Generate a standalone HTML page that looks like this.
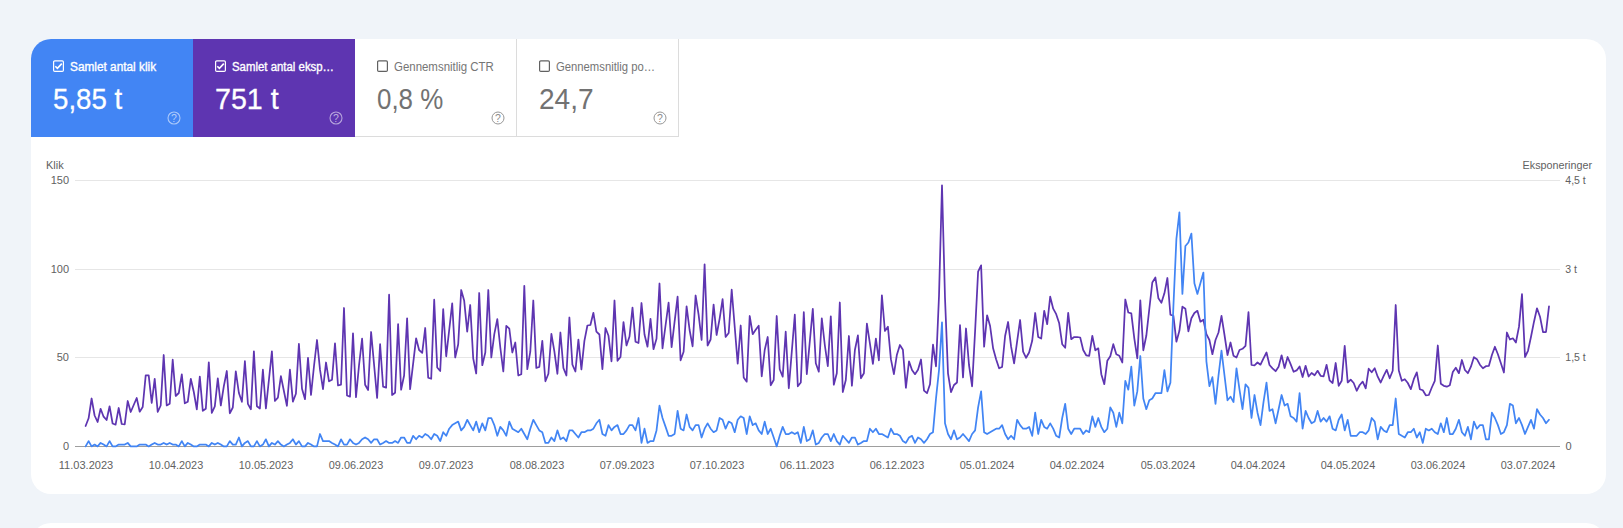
<!DOCTYPE html>
<html lang="da">
<head>
<meta charset="utf-8">
<title>Effektivitet</title>
<style>
html,body{margin:0;padding:0;}
body{width:1623px;height:528px;overflow:hidden;background:#f0f4f9;font-family:"Liberation Sans",Arial,sans-serif;position:relative;}
.card{position:absolute;left:31px;top:39px;width:1575px;height:455px;background:#fff;border-radius:20px;overflow:hidden;}
.card2{position:absolute;left:31px;top:522.5px;width:1575px;height:60px;background:#fff;border-radius:20px;}
.tiles{position:absolute;left:0;top:0;height:98px;display:flex;}
.tile{width:162px;height:98px;box-sizing:border-box;position:relative;color:#fff;}
.tile.blue{background:#4285f4;}
.tile.purple{background:#5e35b1;}
.tile.off{background:#fff;color:#5f6368;border-right:1px solid #dcdcdc;border-bottom:1px solid #dcdcdc;}
.cb{position:absolute;left:22px;top:22px;width:11px;height:12px;overflow:visible;}
.lbl{position:absolute;left:39px;top:20px;font-size:12px;line-height:16px;white-space:nowrap;transform-origin:0 50%;}
.on .lbl{-webkit-text-stroke:0.35px #fff;}
.off .lbl{color:#757575;}
.val{position:absolute;left:22px;top:43px;font-size:29px;line-height:34px;white-space:nowrap;transform-origin:0 50%;}
.on .val{-webkit-text-stroke:0.3px #fff;}
.off .val{color:#727272;}
.help{position:absolute;left:136px;top:72px;width:14px;height:14px;}
svg text{font-family:"Liberation Sans",Arial,sans-serif;}
</style>
</head>
<body>
<div class="card">
  <div class="tiles">
    <div class="tile blue on">
      <svg class="cb" viewBox="0 0 11 12"><rect x="0.6" y="-0.2" width="9.8" height="10.6" rx="1.2" fill="none" stroke="#fff" stroke-width="1.2"/><path d="M2.3 5.2 L4.4 7.4 L8.8 2.6" fill="none" stroke="#fff" stroke-width="1.6"/></svg>
      <div class="lbl" style="transform:scaleX(0.985)">Samlet antal klik</div>
      <div class="val" style="transform:scaleX(0.954)">5,85 t</div>
      <svg class="help" viewBox="0 0 14 14"><circle cx="7" cy="7" r="6" fill="none" stroke="#fff" stroke-opacity="0.55" stroke-width="1.1"/><text x="7" y="10.7" font-size="10.5" text-anchor="middle" fill="#fff" fill-opacity="0.6">?</text></svg>
    </div>
    <div class="tile purple on">
      <svg class="cb" viewBox="0 0 11 12"><rect x="0.6" y="-0.2" width="9.8" height="10.6" rx="1.2" fill="none" stroke="#fff" stroke-width="1.2"/><path d="M2.3 5.2 L4.4 7.4 L8.8 2.6" fill="none" stroke="#fff" stroke-width="1.6"/></svg>
      <div class="lbl" style="transform:scaleX(0.95)">Samlet antal eksp…</div>
      <div class="val" style="transform:scaleX(0.9875)">751 t</div>
      <svg class="help" viewBox="0 0 14 14"><circle cx="7" cy="7" r="6" fill="none" stroke="#fff" stroke-opacity="0.55" stroke-width="1.1"/><text x="7" y="10.7" font-size="10.5" text-anchor="middle" fill="#fff" fill-opacity="0.6">?</text></svg>
    </div>
    <div class="tile off">
      <svg class="cb" viewBox="0 0 11 12"><rect x="0.6" y="-0.2" width="9.8" height="10.6" rx="1.2" fill="none" stroke="#616161" stroke-width="1.2"/></svg>
      <div class="lbl" style="transform:scaleX(0.954)">Gennemsnitlig CTR</div>
      <div class="val" style="transform:scaleX(0.894)">0,8 %</div>
      <svg class="help" viewBox="0 0 14 14"><circle cx="7" cy="7" r="6" fill="none" stroke="#969696" stroke-width="1"/><text x="7" y="10.7" font-size="10.5" text-anchor="middle" fill="#8c8c8c">?</text></svg>
    </div>
    <div class="tile off">
      <svg class="cb" viewBox="0 0 11 12"><rect x="0.6" y="-0.2" width="9.8" height="10.6" rx="1.2" fill="none" stroke="#616161" stroke-width="1.2"/></svg>
      <div class="lbl" style="transform:scaleX(0.94)">Gennemsnitlig po…</div>
      <div class="val" style="transform:scaleX(0.968)">24,7</div>
      <svg class="help" viewBox="0 0 14 14"><circle cx="7" cy="7" r="6" fill="none" stroke="#969696" stroke-width="1"/><text x="7" y="10.7" font-size="10.5" text-anchor="middle" fill="#8c8c8c">?</text></svg>
    </div>
  </div>
</div>
<svg id="chart" width="1623" height="528" viewBox="0 0 1623 528" style="position:absolute;left:0;top:0;">
  <g stroke="#e6e6e6" stroke-width="1" shape-rendering="crispEdges">
    <line x1="75" y1="180.5" x2="1560" y2="180.5"/>
    <line x1="75" y1="269.5" x2="1560" y2="269.5"/>
    <line x1="75" y1="357.5" x2="1560" y2="357.5"/>
  </g>
  <line x1="75" y1="446.5" x2="1560" y2="446.5" stroke="#9e9e9e" stroke-width="1" shape-rendering="crispEdges"/>
  <g font-size="11" fill="#616161">
    <text x="46" y="169">Klik</text>
    <text x="1592" y="169" text-anchor="end" textLength="69.4" lengthAdjust="spacingAndGlyphs">Eksponeringer</text>
  </g>
  <g font-size="11" fill="#616161" text-anchor="end">
    <text x="69" y="184">150</text>
    <text x="69" y="273">100</text>
    <text x="69" y="361">50</text>
    <text x="69" y="450">0</text>
  </g>
  <g font-size="11" fill="#616161">
    <text x="1565.3" y="184" textLength="20.5" lengthAdjust="spacingAndGlyphs">4,5 t</text>
    <text x="1565.3" y="273" textLength="11.7" lengthAdjust="spacingAndGlyphs">3 t</text>
    <text x="1565.3" y="361" textLength="20.5" lengthAdjust="spacingAndGlyphs">1,5 t</text>
    <text x="1565.6" y="450">0</text>
  </g>
  <g font-size="11" fill="#616161" text-anchor="middle">
    <text x="86" y="469" textLength="54.4" lengthAdjust="spacingAndGlyphs">11.03.2023</text>
    <text x="176" y="469" textLength="54.4" lengthAdjust="spacingAndGlyphs">10.04.2023</text>
    <text x="266" y="469" textLength="54.4" lengthAdjust="spacingAndGlyphs">10.05.2023</text>
    <text x="356" y="469" textLength="54.4" lengthAdjust="spacingAndGlyphs">09.06.2023</text>
    <text x="446" y="469" textLength="54.4" lengthAdjust="spacingAndGlyphs">09.07.2023</text>
    <text x="537" y="469" textLength="54.4" lengthAdjust="spacingAndGlyphs">08.08.2023</text>
    <text x="627" y="469" textLength="54.4" lengthAdjust="spacingAndGlyphs">07.09.2023</text>
    <text x="717" y="469" textLength="54.4" lengthAdjust="spacingAndGlyphs">07.10.2023</text>
    <text x="807" y="469" textLength="54.4" lengthAdjust="spacingAndGlyphs">06.11.2023</text>
    <text x="897" y="469" textLength="54.4" lengthAdjust="spacingAndGlyphs">06.12.2023</text>
    <text x="987" y="469" textLength="54.4" lengthAdjust="spacingAndGlyphs">05.01.2024</text>
    <text x="1077" y="469" textLength="54.4" lengthAdjust="spacingAndGlyphs">04.02.2024</text>
    <text x="1168" y="469" textLength="54.4" lengthAdjust="spacingAndGlyphs">05.03.2024</text>
    <text x="1258" y="469" textLength="54.4" lengthAdjust="spacingAndGlyphs">04.04.2024</text>
    <text x="1348" y="469" textLength="54.4" lengthAdjust="spacingAndGlyphs">04.05.2024</text>
    <text x="1438" y="469" textLength="54.4" lengthAdjust="spacingAndGlyphs">03.06.2024</text>
    <text x="1528" y="469" textLength="54.4" lengthAdjust="spacingAndGlyphs">03.07.2024</text>
  </g>
  <!--SERIES--><polyline fill="none" stroke="#5e35b1" stroke-width="1.75" stroke-linejoin="round" stroke-linecap="round" points="85.6,426.0 88.6,418.3 91.6,398.5 94.6,415.5 97.6,422.0 100.6,408.8 103.6,416.7 106.6,420.0 109.6,406.3 112.6,423.5 115.6,424.7 118.7,408.0 121.7,424.0 124.7,424.3 127.7,401.0 130.7,412.0 133.7,405.0 136.7,398.0 139.7,411.7 142.7,407.0 145.7,375.3 148.7,375.3 151.7,403.0 154.7,378.8 157.7,412.0 160.7,405.5 163.7,355.0 166.7,405.5 169.7,403.8 172.7,359.7 175.7,396.0 178.8,393.0 181.8,374.3 184.8,403.3 187.8,401.7 190.8,378.8 193.8,392.0 196.8,409.3 199.8,376.7 202.8,410.8 205.8,408.8 208.8,362.3 211.8,413.0 214.8,406.3 217.8,378.3 220.8,405.5 223.8,386.3 226.8,371.0 229.8,413.3 232.8,407.5 235.8,371.3 238.9,393.0 241.9,401.8 244.9,361.2 247.9,403.8 250.9,409.3 253.9,351.3 256.9,406.3 259.9,408.5 262.9,369.7 265.9,408.5 268.9,380.0 271.9,351.3 274.9,401.0 277.9,397.7 280.9,376.2 283.9,391.0 286.9,405.8 289.9,369.7 292.9,401.7 295.9,393.8 298.9,343.8 302.0,388.8 305.0,399.2 308.0,357.8 311.0,395.0 314.0,366.0 317.0,340.0 320.0,369.7 323.0,389.2 326.0,362.5 329.0,381.3 332.0,379.7 335.0,343.3 338.0,385.5 341.0,384.7 344.0,308.0 347.0,395.5 350.0,396.7 353.0,333.3 356.0,397.2 359.0,365.5 362.1,338.7 365.1,384.7 368.1,390.0 371.1,332.0 374.1,365.0 377.1,398.0 380.1,344.2 383.1,386.7 386.1,387.7 389.1,294.7 392.1,395.0 395.1,392.7 398.1,324.2 401.1,389.7 404.1,375.5 407.1,318.3 410.1,389.2 413.1,363.8 416.1,338.3 419.1,350.0 422.2,352.8 425.2,328.0 428.2,377.7 431.2,378.8 434.2,299.7 437.2,367.5 440.2,371.0 443.2,309.2 446.2,356.3 449.2,330.0 452.2,303.3 455.2,357.5 458.2,344.2 461.2,290.0 464.2,300.8 467.2,331.7 470.2,305.0 473.2,358.3 476.2,373.5 479.2,293.0 482.3,365.2 485.3,352.5 488.3,290.0 491.3,357.5 494.3,334.2 497.3,319.2 500.3,347.5 503.3,371.5 506.3,325.8 509.3,328.7 512.3,352.5 515.3,342.5 518.3,375.5 521.3,374.3 524.3,285.8 527.3,369.2 530.3,351.7 533.3,300.5 536.3,367.9 539.3,367.0 542.3,340.8 545.4,381.3 548.4,373.8 551.4,333.8 554.4,351.7 557.4,373.8 560.4,332.5 563.4,368.0 566.4,375.5 569.4,317.5 572.4,364.7 575.4,371.5 578.4,339.7 581.4,369.5 584.4,340.8 587.4,325.5 590.4,325.0 593.4,312.8 596.4,331.7 599.4,334.5 602.4,369.2 605.5,328.0 608.5,335.8 611.5,361.3 614.5,300.5 617.5,360.8 620.5,357.0 623.5,322.2 626.5,345.5 629.5,336.5 632.5,307.7 635.5,341.7 638.5,343.0 641.5,303.0 644.5,334.5 647.5,346.7 650.5,318.8 653.5,349.2 656.5,338.7 659.5,283.5 662.5,348.3 665.6,325.0 668.6,302.7 671.6,347.2 674.6,321.7 677.6,296.7 680.6,360.3 683.6,351.7 686.6,306.3 689.6,330.0 692.6,346.3 695.6,295.5 698.6,314.7 701.6,340.0 704.6,264.3 707.6,345.5 710.6,339.5 713.6,304.7 716.6,335.0 719.6,318.8 722.6,299.2 725.6,337.0 728.7,333.0 731.7,289.7 734.7,326.7 737.7,363.7 740.7,325.5 743.7,377.5 746.7,381.7 749.7,316.0 752.7,334.2 755.7,329.7 758.7,325.7 761.7,376.3 764.7,350.0 767.7,337.0 770.7,385.3 773.7,380.0 776.7,316.0 779.7,369.2 782.7,376.7 785.7,331.7 788.8,388.3 791.8,351.5 794.8,314.7 797.8,386.3 800.8,382.5 803.8,312.2 806.8,374.2 809.8,341.5 812.8,308.8 815.8,363.3 818.8,371.7 821.8,318.3 824.8,345.0 827.8,366.2 830.8,316.3 833.8,384.7 836.8,373.3 839.8,302.5 842.8,392.0 845.8,380.0 848.9,336.0 851.9,385.8 854.9,350.0 857.9,335.4 860.9,378.3 863.9,373.3 866.9,323.6 869.9,343.3 872.9,363.8 875.9,338.7 878.9,360.3 881.9,295.3 884.9,331.0 887.9,326.7 890.9,359.2 893.9,374.2 896.9,354.7 899.9,345.0 902.9,349.7 905.9,387.8 909.0,361.3 912.0,370.0 915.0,374.2 918.0,369.7 921.0,359.5 924.0,390.6 927.0,393.2 930.0,384.2 933.0,344.7 936.0,366.3 939.0,296.0 942.0,185.3 945.0,298.0 948.0,373.3 951.0,392.2 954.0,385.0 957.0,382.5 960.0,325.2 963.0,377.5 966.0,328.5 969.0,365.0 972.1,386.3 975.1,331.0 978.1,271.7 981.1,265.3 984.1,346.7 987.1,315.3 990.1,326.0 993.1,348.3 996.1,359.2 999.1,368.3 1002.1,367.0 1005.1,336.0 1008.1,322.0 1011.1,346.7 1014.1,363.3 1017.1,341.7 1020.1,320.0 1023.1,351.7 1026.1,357.8 1029.1,352.5 1032.2,340.8 1035.2,313.0 1038.2,337.0 1041.2,338.6 1044.2,310.8 1047.2,324.2 1050.2,296.7 1053.2,308.7 1056.2,314.2 1059.2,323.3 1062.2,344.2 1065.2,347.8 1068.2,312.8 1071.2,339.2 1074.2,337.0 1077.2,337.0 1080.2,337.5 1083.2,350.0 1086.2,355.3 1089.2,355.8 1092.3,335.8 1095.3,350.3 1098.3,348.3 1101.3,374.2 1104.3,384.2 1107.3,360.8 1110.3,356.3 1113.3,344.2 1116.3,354.2 1119.3,355.8 1122.3,362.5 1125.3,299.5 1128.3,312.5 1131.3,313.3 1134.3,338.3 1137.3,358.3 1140.3,300.3 1143.3,350.3 1146.3,335.8 1149.3,309.0 1152.3,282.5 1155.4,277.5 1158.4,298.3 1161.4,302.8 1164.4,293.3 1167.4,278.0 1170.4,314.7 1173.4,315.8 1176.4,341.7 1179.4,330.8 1182.4,306.7 1185.4,308.8 1188.4,331.3 1191.4,318.3 1194.4,313.0 1197.4,310.8 1200.4,321.7 1203.4,319.7 1206.4,334.2 1209.4,340.0 1212.4,354.2 1215.5,340.0 1218.5,332.5 1221.5,315.8 1224.5,335.0 1227.5,355.0 1230.5,342.5 1233.5,355.8 1236.5,357.5 1239.5,350.0 1242.5,348.8 1245.5,345.8 1248.5,312.2 1251.5,365.0 1254.5,365.3 1257.5,362.5 1260.5,364.7 1263.5,358.3 1266.5,352.5 1269.5,365.0 1272.5,368.3 1275.6,371.2 1278.6,366.7 1281.6,355.3 1284.6,368.0 1287.6,357.0 1290.6,364.2 1293.6,371.8 1296.6,370.4 1299.6,366.4 1302.6,377.0 1305.6,365.8 1308.6,376.5 1311.6,373.0 1314.6,375.3 1317.6,370.8 1320.6,375.8 1323.6,376.3 1326.6,364.8 1329.6,380.3 1332.6,383.0 1335.7,363.0 1338.7,385.8 1341.7,380.8 1344.7,345.8 1347.7,382.5 1350.7,379.7 1353.7,383.0 1356.7,390.8 1359.7,385.0 1362.7,381.7 1365.7,388.3 1368.7,368.7 1371.7,372.3 1374.7,368.3 1377.7,376.7 1380.7,382.5 1383.7,375.8 1386.7,369.8 1389.7,378.3 1392.7,370.8 1395.7,305.0 1398.8,370.5 1401.8,380.8 1404.8,379.2 1407.8,383.0 1410.8,389.2 1413.8,379.2 1416.8,372.3 1419.8,389.2 1422.8,390.3 1425.8,395.3 1428.8,395.0 1431.8,387.5 1434.8,380.8 1437.8,345.5 1440.8,383.7 1443.8,385.8 1446.8,386.7 1449.8,385.3 1452.8,372.0 1455.8,367.7 1458.9,373.2 1461.9,360.0 1464.9,370.0 1467.9,373.2 1470.9,366.7 1473.9,357.2 1476.9,359.2 1479.9,364.7 1482.9,368.3 1485.9,366.2 1488.9,365.8 1491.9,355.0 1494.9,346.7 1497.9,354.2 1500.9,363.3 1503.9,372.5 1506.9,332.5 1509.9,339.5 1512.9,338.3 1515.9,342.5 1519.0,326.7 1522.0,294.2 1525.0,357.0 1528.0,350.8 1531.0,336.7 1534.0,321.7 1537.0,308.3 1540.0,316.7 1543.0,332.0 1546.0,332.0 1549.0,306.3"/>
<polyline fill="none" stroke="#4285f4" stroke-width="1.75" stroke-linejoin="round" stroke-linecap="round" points="85.6,446.4 88.6,441.1 91.6,446.4 94.6,444.6 97.6,446.4 100.6,442.9 103.6,444.6 106.6,446.4 109.6,441.1 112.6,446.4 115.6,446.4 118.7,444.6 121.7,444.6 124.7,444.6 127.7,442.9 130.7,446.4 133.7,446.4 136.7,446.4 139.7,444.6 142.7,444.6 145.7,444.6 148.7,446.4 151.7,444.6 154.7,442.9 157.7,444.6 160.7,444.6 163.7,442.9 166.7,444.6 169.7,442.9 172.7,444.6 175.7,444.6 178.8,446.4 181.8,441.1 184.8,446.4 187.8,442.9 190.8,444.6 193.8,446.4 196.8,446.4 199.8,444.6 202.8,444.6 205.8,444.6 208.8,446.4 211.8,442.9 214.8,444.6 217.8,442.9 220.8,444.6 223.8,446.4 226.8,446.4 229.8,441.1 232.8,444.6 235.8,444.6 238.9,437.5 241.9,446.4 244.9,442.9 247.9,441.1 250.9,446.4 253.9,446.4 256.9,441.1 259.9,446.4 262.9,444.6 265.9,439.3 268.9,446.4 271.9,442.9 274.9,444.6 277.9,441.1 280.9,444.6 283.9,446.4 286.9,444.6 289.9,442.9 292.9,439.3 295.9,444.6 298.9,441.1 302.0,446.4 305.0,446.4 308.0,442.9 311.0,444.6 314.0,446.4 317.0,446.4 320.0,434.0 323.0,441.1 326.0,441.1 329.0,441.1 332.0,442.9 335.0,444.6 338.0,446.4 341.0,439.3 344.0,444.6 347.0,444.6 350.0,439.3 353.0,442.9 356.0,444.6 359.0,442.9 362.1,439.3 365.1,437.5 368.1,439.3 371.1,442.9 374.1,439.3 377.1,439.3 380.1,444.6 383.1,442.9 386.1,441.1 389.1,442.9 392.1,442.9 395.1,441.1 398.1,442.9 401.1,437.5 404.1,437.5 407.1,442.9 410.1,442.9 413.1,435.8 416.1,439.3 419.1,435.8 422.2,437.5 425.2,434.0 428.2,435.8 431.2,439.3 434.2,434.0 437.2,435.8 440.2,441.1 443.2,432.2 446.2,435.8 449.2,428.7 452.2,425.1 455.2,423.3 458.2,421.6 461.2,430.4 464.2,426.9 467.2,419.8 470.2,425.1 473.2,430.4 476.2,421.6 479.2,432.2 482.3,423.3 485.3,430.4 488.3,418.0 491.3,418.0 494.3,425.1 497.3,435.8 500.3,426.9 503.3,430.4 506.3,435.8 509.3,421.6 512.3,428.7 515.3,430.4 518.3,432.2 521.3,428.7 524.3,434.0 527.3,439.3 530.3,428.7 533.3,419.8 536.3,425.1 539.3,430.4 542.3,432.2 545.4,442.9 548.4,442.9 551.4,437.5 554.4,441.1 557.4,430.4 560.4,439.3 563.4,437.5 566.4,441.1 569.4,430.4 572.4,430.4 575.4,434.0 578.4,437.5 581.4,432.2 584.4,432.2 587.4,430.4 590.4,430.4 593.4,428.7 596.4,423.3 599.4,419.8 602.4,434.0 605.5,435.8 608.5,425.1 611.5,430.4 614.5,426.9 617.5,425.1 620.5,434.0 623.5,434.0 626.5,430.4 629.5,425.1 632.5,425.1 635.5,430.4 638.5,418.0 641.5,442.9 644.5,428.7 647.5,442.9 650.5,441.1 653.5,441.1 656.5,430.4 659.5,405.6 662.5,418.0 665.6,426.9 668.6,435.8 671.6,435.8 674.6,434.0 677.6,410.9 680.6,428.7 683.6,430.4 686.6,414.5 689.6,426.9 692.6,430.4 695.6,425.1 698.6,425.1 701.6,437.5 704.6,428.7 707.6,423.3 710.6,428.7 713.6,432.2 716.6,430.4 719.6,418.0 722.6,419.8 725.6,428.7 728.7,421.6 731.7,423.3 734.7,432.2 737.7,419.8 740.7,416.3 743.7,418.0 746.7,434.0 749.7,416.3 752.7,425.1 755.7,423.3 758.7,430.4 761.7,434.0 764.7,421.6 767.7,434.0 770.7,428.7 773.7,437.5 776.7,446.4 779.7,435.8 782.7,426.9 785.7,434.0 788.8,434.0 791.8,432.2 794.8,434.0 797.8,432.2 800.8,442.9 803.8,426.9 806.8,441.1 809.8,439.3 812.8,430.4 815.8,444.6 818.8,442.9 821.8,437.5 824.8,434.0 827.8,434.0 830.8,441.1 833.8,434.0 836.8,441.1 839.8,444.6 842.8,435.8 845.8,439.3 848.9,442.9 851.9,437.5 854.9,437.5 857.9,444.6 860.9,442.9 863.9,441.1 866.9,441.1 869.9,428.7 872.9,432.2 875.9,428.7 878.9,434.0 881.9,434.0 884.9,435.8 887.9,437.5 890.9,428.7 893.9,434.0 896.9,434.0 899.9,435.8 902.9,441.1 905.9,442.9 909.0,437.5 912.0,435.8 915.0,442.9 918.0,437.5 921.0,439.3 924.0,442.9 927.0,439.3 930.0,434.0 933.0,432.2 936.0,398.5 939.0,370.1 942.0,322.3 945.0,423.3 948.0,434.0 951.0,439.3 954.0,430.4 957.0,439.3 960.0,437.5 963.0,434.0 966.0,437.5 969.0,441.1 972.1,434.0 975.1,430.4 978.1,407.4 981.1,391.4 984.1,432.2 987.1,434.0 990.1,432.2 993.1,430.4 996.1,428.7 999.1,428.7 1002.1,425.1 1005.1,434.0 1008.1,439.3 1011.1,435.8 1014.1,439.3 1017.1,419.8 1020.1,425.1 1023.1,428.7 1026.1,428.7 1029.1,426.9 1032.2,435.8 1035.2,412.7 1038.2,434.0 1041.2,419.8 1044.2,426.9 1047.2,428.7 1050.2,423.3 1053.2,428.7 1056.2,435.8 1059.2,437.5 1062.2,418.0 1065.2,403.8 1068.2,428.7 1071.2,434.0 1074.2,428.7 1077.2,428.7 1080.2,428.7 1083.2,434.0 1086.2,430.4 1089.2,432.2 1092.3,416.3 1095.3,426.9 1098.3,418.0 1101.3,426.9 1104.3,432.2 1107.3,428.7 1110.3,407.4 1113.3,412.7 1116.3,426.9 1119.3,412.7 1122.3,423.3 1125.3,380.8 1128.3,389.7 1131.3,366.6 1134.3,405.6 1137.3,391.4 1140.3,356.0 1143.3,398.5 1146.3,409.2 1149.3,400.3 1152.3,398.5 1155.4,393.2 1158.4,393.2 1161.4,393.2 1164.4,370.1 1167.4,391.4 1170.4,382.6 1173.4,306.3 1176.4,238.9 1179.4,212.3 1182.4,293.9 1185.4,246.0 1188.4,242.5 1191.4,233.6 1194.4,283.3 1197.4,293.9 1200.4,283.3 1203.4,272.6 1206.4,361.3 1209.4,386.1 1212.4,377.2 1215.5,403.8 1218.5,375.5 1221.5,350.6 1224.5,375.5 1227.5,400.3 1230.5,396.7 1233.5,402.1 1236.5,368.4 1239.5,389.7 1242.5,409.2 1245.5,384.3 1248.5,387.9 1251.5,418.0 1254.5,395.0 1257.5,412.7 1260.5,425.1 1263.5,402.1 1266.5,382.6 1269.5,410.9 1272.5,409.2 1275.6,423.3 1278.6,409.2 1281.6,395.0 1284.6,405.6 1287.6,403.8 1290.6,416.3 1293.6,418.0 1296.6,421.6 1299.6,393.2 1302.6,428.7 1305.6,410.9 1308.6,418.0 1311.6,423.3 1314.6,421.6 1317.6,410.9 1320.6,421.6 1323.6,418.0 1326.6,421.6 1329.6,416.3 1332.6,428.7 1335.7,430.4 1338.7,419.8 1341.7,414.5 1344.7,430.4 1347.7,419.8 1350.7,435.8 1353.7,435.8 1356.7,435.8 1359.7,432.2 1362.7,432.2 1365.7,434.0 1368.7,430.4 1371.7,418.0 1374.7,421.6 1377.7,439.3 1380.7,426.9 1383.7,430.4 1386.7,432.2 1389.7,425.1 1392.7,425.1 1395.7,398.5 1398.8,434.0 1401.8,435.8 1404.8,437.5 1407.8,432.2 1410.8,432.2 1413.8,428.7 1416.8,437.5 1419.8,432.2 1422.8,442.9 1425.8,428.7 1428.8,430.4 1431.8,428.7 1434.8,432.2 1437.8,434.0 1440.8,423.3 1443.8,432.2 1446.8,418.0 1449.8,434.0 1452.8,434.0 1455.8,428.7 1458.9,419.8 1461.9,432.2 1464.9,435.8 1467.9,426.9 1470.9,439.3 1473.9,421.6 1476.9,428.7 1479.9,425.1 1482.9,425.1 1485.9,439.3 1488.9,439.3 1491.9,412.7 1494.9,418.0 1497.9,425.1 1500.9,434.0 1503.9,432.2 1506.9,425.1 1509.9,403.8 1512.9,405.6 1515.9,423.3 1519.0,418.0 1522.0,425.1 1525.0,434.0 1528.0,426.9 1531.0,419.8 1534.0,428.7 1537.0,409.2 1540.0,414.5 1543.0,418.0 1546.0,423.3 1549.0,419.8"/><!--/SERIES-->
</svg>
<div class="card2"></div>
</body>
</html>
